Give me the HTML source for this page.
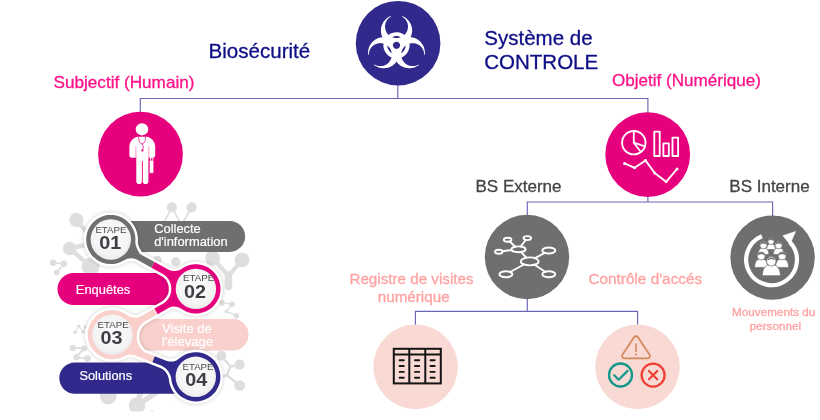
<!DOCTYPE html>
<html lang="fr">
<head>
<meta charset="utf-8">
<title>Biosécurité – Système de CONTROLE</title>
<style>
html,body{margin:0;padding:0;background:#fff;}
body{width:820px;height:420px;overflow:hidden;position:relative;font-family:"Liberation Sans",Arial,sans-serif;}
svg{position:absolute;left:0;top:0;display:block;will-change:transform;}
text{font-family:"Liberation Sans",Arial,sans-serif;}
.navy{fill:#0e0e86;stroke:#0e0e86;}
.mag{fill:#ff1088;stroke:#ff1088;}
.dk{fill:#454545;stroke:#454545;}
.sal{fill:#ffa2a2;stroke:#ffa2a2;}
.w{fill:#fff;}
</style>
</head>
<body>
<svg width="820" height="420" viewBox="0 0 820 420">
<defs>
  <radialGradient id="rg" cx="50%" cy="45%" r="55%">
    <stop offset="0" stop-color="#fafafa"/><stop offset="0.75" stop-color="#f5f5f5"/><stop offset="1" stop-color="#ebebeb"/>
  </radialGradient>
  <clipPath id="decoclip"><rect x="0" y="195" width="820" height="216.4"/></clipPath>
  <filter id="soft" x="-10%" y="-10%" width="120%" height="120%"><feGaussianBlur stdDeviation="1.6"/></filter>
</defs>

<!-- connector lines -->
<g id="lines" fill="none" stroke="#6a67b6" stroke-width="1.15">
  <path d="M397.8 84V98.5M140.3 113V98.5H647.9V113"/>
  <path d="M647.9 196V202M527.3 216V202H772.6V216"/>
  <path d="M527.3 298V311.4M415.4 325V311.4H637.6V325"/>
</g>

<!-- main circles -->
<circle cx="398.1" cy="43.2" r="42.3" fill="#312a8c"/>
<circle cx="140.5" cy="154.2" r="42.4" fill="#e6007e"/>
<circle cx="647.7" cy="154.6" r="42.4" fill="#e6007e"/>
<circle cx="527" cy="257" r="42.2" fill="#706f6f"/>
<circle cx="772.6" cy="257.6" r="42.2" fill="#706f6f"/>
<circle cx="415.6" cy="366.9" r="42.3" fill="#f9d9d4"/>
<circle cx="637.5" cy="366.9" r="42.3" fill="#f9d9d4"/>

<!-- labels -->
<g stroke-width="0.3">
<text x="208.6" y="57.9" font-size="20.55" class="navy">Biosécurité</text>
<text x="484.3" y="44.65" font-size="20.5" class="navy">Système de</text>
<text x="484.3" y="68.75" font-size="20.5" class="navy">CONTROLE</text>
<text x="53.5" y="88.1" font-size="17.15" class="mag">Subjectif (Humain)</text>
<text x="612" y="85.6" font-size="17.07" class="mag">Objetif (Numérique)</text>
<text x="475.5" y="192.3" font-size="17" class="dk">BS Externe</text>
<text x="729.3" y="192.3" font-size="17" class="dk">BS Interne</text>
<text x="411.5" y="283.5" font-size="15.2" class="sal" text-anchor="middle">Registre de visites</text>
<text x="413.7" y="301.6" font-size="15.2" class="sal" text-anchor="middle">numérique</text>
<text x="588.4" y="284.2" font-size="15.35" class="sal">Contrôle d'accés</text>
<text x="773.7" y="315.9" font-size="11.7" class="sal" text-anchor="middle">Mouvements du</text>
<text x="775.4" y="329.9" font-size="11.7" class="sal" text-anchor="middle">personnel</text>
</g>

<!--DECO-->
<g id="deco" fill="#dedede" stroke="#dedede" stroke-linecap="round" clip-path="url(#decoclip)">
  <!-- upper-left cluster -->
  <circle cx="76.4" cy="220" r="7.2" stroke="none"/>
  <circle cx="69.7" cy="248.5" r="6.8" stroke="none"/>
  <circle cx="90.6" cy="266.6" r="9" stroke="none"/>
  <path d="M76.4 220L88 234M69.7 248.5L90 244M69.7 248.5L90.6 266.6" stroke-width="4.4" fill="none"/>
  <circle cx="53" cy="262.8" r="3.2" stroke="none"/><circle cx="64" cy="263.7" r="3.2" stroke="none"/><circle cx="56.8" cy="272.3" r="2.9" stroke="none"/>
  <path d="M53 262.8L64 263.7L56.8 272.3" stroke-width="1.7" fill="none"/>
  <!-- above bar 1 -->
  <circle cx="171.9" cy="207.4" r="5.1" stroke="none"/><circle cx="191.6" cy="207.4" r="5.1" stroke="none"/>
  <path d="M163 224L171.9 207.4L181.5 225L191.6 207.4" stroke-width="1.8" fill="none"/>
  <!-- below bar 1 right -->
  <circle cx="212.6" cy="258" r="7.4" stroke="none"/><circle cx="242" cy="259.8" r="7.4" stroke="none"/>
  <circle cx="175.7" cy="261.7" r="4.6" stroke="none"/><circle cx="157.6" cy="259.8" r="4" stroke="none"/>
  <path d="M212.6 258L228.5 276L242 259.8" stroke-width="4.2" fill="none"/><path d="M228.5 275L228.5 286.5" stroke-width="7.4" fill="none"/>
  <!-- small chain right middle -->
  <circle cx="222.1" cy="302.9" r="2.8" stroke="none"/><circle cx="232.1" cy="304.3" r="2.8" stroke="none"/><circle cx="226.4" cy="311.4" r="2" stroke="none"/><circle cx="236.4" cy="315.7" r="2.8" stroke="none"/>
  <path d="M222.1 302.9L232.1 304.3L226.4 311.4L236.4 315.7" stroke-width="1.3" fill="none"/>
  <!-- lower right -->
  <circle cx="221.4" cy="355.7" r="4.9" stroke="none"/><circle cx="239.6" cy="364.6" r="5" stroke="none"/><circle cx="239.6" cy="385.5" r="5.3" stroke="none"/>
  <path d="M221.4 355.7L230.5 366.5L239.6 364.6M230.5 366.5L226.8 375L239.6 385.5M226.8 375L215 380" stroke-width="2.4" stroke-linejoin="round" fill="none"/>
  <!-- left of ring 03 -->
  <circle cx="75" cy="332.3" r="1.7" stroke="none"/><circle cx="78.9" cy="326.1" r="1.7" stroke="none"/><circle cx="82.9" cy="331.8" r="1.7" stroke="none"/><circle cx="85.7" cy="327" r="1.7" stroke="none"/>
  <path d="M75 332.3L78.9 326.1L82.9 331.8L85.7 327" stroke-width="1" fill="none"/>
  <circle cx="72.7" cy="347.9" r="3.1" stroke="none"/><circle cx="83.9" cy="348.4" r="3" stroke="none"/><circle cx="76.3" cy="357.3" r="3" stroke="none"/><circle cx="87.5" cy="358.6" r="3.3" stroke="none"/>
  <path d="M72.7 347.9L83.9 348.4L76.3 357.3L87.5 358.6" stroke-width="1.9" fill="none"/>
  <!-- below bar 4 -->
  <circle cx="108.3" cy="396" r="8.4" stroke="none"/><circle cx="137" cy="405.5" r="8.3" stroke="none"/>
  <path d="M137 405.5L157 392M137 403L141 392" stroke-width="5.2" fill="none"/>
  <circle cx="152" cy="411" r="0.6" fill="#666" stroke="none"/>
</g>

<!--/DECO-->
<!--STEPS-->
<g id="steps">
<path d="M118 221H229.7a15.45 15.45 0 0 1 0 30.9H118Z" fill="#706f6f"/>
<path d="M190 273H73.5a16 16 0 0 0 0 32H190Z" fill="#e6007e"/>
<path d="M120 319H232.8a15.75 15.75 0 0 1 0 31.5H120Z" fill="#f9d0cb"/>
<path d="M190 362.4H75a15.7 15.7 0 0 0 0 31.4H190Z" fill="#312a8c"/>
<path id="shadow" d="M127.5 221.5L125.7 219.9L123.9 218.7L122.3 217.8L120.1 216.7L118.0 216.0L115.7 215.4L113.9 215.1L111.5 214.9L109.3 214.9L107.5 215.1L105.1 215.6L103.0 216.2L100.8 217.0L99.1 217.9L97.1 219.1L95.3 220.4L93.9 221.6L92.3 223.3L90.9 225.1L89.9 226.6L88.7 228.7L87.8 230.7L87.2 232.5L86.7 234.8L86.3 237.2L86.2 239.4L86.3 241.2L86.5 243.6L87.0 245.8L87.7 248.0L88.4 249.7L89.6 251.9L91.2 254.4L92.9 256.4L94.7 258.1L97.0 259.9L99.3 261.2L101.5 262.3L104.3 263.2L106.7 263.8L109.3 264.1L111.7 264.1L114.1 263.9L116.5 263.4L118.6 262.8L120.8 262.0L126.1 259.2L127.4 258.7L129.3 258.4L131.2 258.2L133.6 258.5L135.4 259.0L137.2 259.8L162.9 274.0L164.7 275.2L166.4 276.7L167.9 278.4L169.1 280.2L170.2 282.7L170.9 284.8L171.2 287.0L171.3 289.6L171.1 291.8L170.6 294.1L169.6 296.6L168.1 299.0L166.3 301.1L164.2 302.9L162.8 303.8L141.6 316.0L139.9 316.8L138.6 317.3L136.8 317.7L134.9 317.8L133.0 317.6L131.3 317.2L128.9 316.2L124.7 313.5L121.8 312.0L120.1 311.4L118.0 310.8L114.6 310.2L112.4 310.1L110.6 310.2L108.4 310.4L106.6 310.8L104.5 311.4L102.8 312.0L100.8 312.9L99.2 313.9L97.4 315.1L95.6 316.7L94.3 318.0L92.7 319.8L91.5 321.6L90.6 323.2L89.5 325.4L88.8 327.5L88.2 329.8L87.9 331.6L87.7 334.0L87.7 336.2L88.0 338.6L88.4 340.4L89.0 342.7L89.8 344.7L91.0 347.1L92.4 349.1L94.3 351.4L96.1 353.2L98.1 354.8L100.6 356.3L103.0 357.5L105.3 358.3L107.6 358.8L110.6 359.2L113.0 359.3L115.6 359.1L118.0 358.6L120.3 358.0L122.5 357.1L125.5 355.6L127.3 355.0L129.8 354.6L132.3 354.7L134.1 355.0L135.3 355.5L161.7 365.8L164.0 367.2L165.8 368.5L167.4 370.2L168.7 372.0L169.8 373.9L170.6 376.0L171.2 378.1L171.5 380.9L172.1 383.3L172.8 385.5L173.8 387.8L175.3 390.4L176.8 392.5L178.9 394.7L180.9 396.4L183.6 398.1L186.5 399.6L189.5 400.6L192.7 401.2L195.9 401.4L199.1 401.2L202.3 400.5L205.8 399.3L208.2 398.0L210.9 396.2L213.3 394.1L215.3 391.9L217.0 389.2L218.2 386.9L219.4 383.9L220.1 380.9L220.4 377.7L220.3 375.1L219.9 371.9L219.1 369.0L217.9 366.0L216.6 363.7L214.8 361.1L212.7 358.9L210.7 357.2L208.7 355.9L206.6 354.7L204.4 353.7L202.1 353.0L199.7 352.5L197.3 352.2L194.9 352.2L192.5 352.4L190.1 352.9L188.0 353.5L185.8 354.3L184.1 355.2L182.2 356.3L177.9 359.5L176.3 360.4L175.0 360.9L173.2 361.4L171.2 361.6L169.3 361.5L166.9 360.9L144.8 352.3L143.3 351.5L142.6 350.4L141.0 348.7L139.6 346.9L138.5 345.0L137.9 343.4L137.2 341.3L136.9 339.2L136.8 337.0L137.0 334.2L137.2 332.6L137.6 331.0L138.2 329.4L138.9 327.9L139.8 326.5L140.8 325.1L141.9 323.9L143.1 322.8L145.4 321.2L167.7 308.4L170.0 307.3L171.8 306.8L173.7 306.6L175.6 306.7L177.5 307.0L180.0 308.0L184.2 310.5L187.1 311.9L188.9 312.5L191.0 313.0L194.4 313.5L196.6 313.5L198.4 313.4L200.6 313.1L202.3 312.6L204.4 312.0L206.1 311.3L208.1 310.3L209.7 309.3L211.4 308.0L212.8 306.8L214.4 305.1L215.8 303.3L216.8 301.8L218.0 299.7L218.9 297.7L219.5 295.9L220.0 293.6L220.4 291.4L220.5 289.6L220.4 287.2L220.2 285.0L219.8 283.2L219.2 280.9L218.4 278.9L217.2 276.5L215.8 274.5L213.9 272.2L212.2 270.5L210.2 268.9L208.1 267.5L205.4 266.2L203.1 265.4L200.6 264.8L197.4 264.3L194.4 264.3L191.8 264.6L188.9 265.3L186.4 266.2L183.7 267.5L180.3 269.7L178.4 270.4L176.7 270.8L175.4 271.0L173.6 271.0L172.3 270.9L169.9 270.2L168.2 269.5L141.3 254.8L139.9 253.7L139.2 253.1L138.9 251.9L137.3 249.3L136.2 246.6L135.6 244.5L135.4 242.9L135.4 238.6L135.1 235.6L134.5 233.0L133.5 230.0L132.4 227.8L130.9 225.3L129.2 223.2Z" fill="none" stroke="#000" stroke-opacity="0.1" stroke-width="8" stroke-linejoin="round" filter="url(#soft)"/>
<path d="M127.5 221.5L125.7 219.9L123.9 218.7L122.3 217.8L120.1 216.7L118.0 216.0L115.7 215.4L113.9 215.1L111.5 214.9L109.3 214.9L107.5 215.1L105.1 215.6L103.0 216.2L100.8 217.0L99.1 217.9L97.1 219.1L95.3 220.4L93.9 221.6L92.3 223.3L90.9 225.1L89.9 226.6L88.7 228.7L87.8 230.7L87.2 232.5L86.7 234.8L86.3 237.2L86.2 239.4L86.3 241.2L86.5 243.6L87.0 245.8L87.7 248.0L88.4 249.7L89.6 251.9L91.2 254.4L92.9 256.4L94.7 258.1L97.0 259.9L99.3 261.2L101.5 262.3L104.3 263.2L106.7 263.8L109.3 264.1L111.7 264.1L114.1 263.9L116.5 263.4L118.6 262.8L120.8 262.0L126.1 259.2L127.4 258.7L129.3 258.4L131.2 258.2L133.6 258.5L135.4 259.0L137.2 259.8L162.9 274.0L164.7 275.2L166.4 276.7L167.9 278.4L169.1 280.2L170.2 282.7L170.9 284.8L171.2 287.0L171.3 289.6L171.1 291.8L170.6 294.1L169.6 296.6L168.1 299.0L166.3 301.1L164.2 302.9L162.8 303.8L141.6 316.0L139.9 316.8L138.6 317.3L136.8 317.7L134.9 317.8L133.0 317.6L131.3 317.2L128.9 316.2L124.7 313.5L121.8 312.0L120.1 311.4L118.0 310.8L114.6 310.2L112.4 310.1L110.6 310.2L108.4 310.4L106.6 310.8L104.5 311.4L102.8 312.0L100.8 312.9L99.2 313.9L97.4 315.1L95.6 316.7L94.3 318.0L92.7 319.8L91.5 321.6L90.6 323.2L89.5 325.4L88.8 327.5L88.2 329.8L87.9 331.6L87.7 334.0L87.7 336.2L88.0 338.6L88.4 340.4L89.0 342.7L89.8 344.7L91.0 347.1L92.4 349.1L94.3 351.4L96.1 353.2L98.1 354.8L100.6 356.3L103.0 357.5L105.3 358.3L107.6 358.8L110.6 359.2L113.0 359.3L115.6 359.1L118.0 358.6L120.3 358.0L122.5 357.1L125.5 355.6L127.3 355.0L129.8 354.6L132.3 354.7L134.1 355.0L135.3 355.5L161.7 365.8L164.0 367.2L165.8 368.5L167.4 370.2L168.7 372.0L169.8 373.9L170.6 376.0L171.2 378.1L171.5 380.9L172.1 383.3L172.8 385.5L173.8 387.8L175.3 390.4L176.8 392.5L178.9 394.7L180.9 396.4L183.6 398.1L186.5 399.6L189.5 400.6L192.7 401.2L195.9 401.4L199.1 401.2L202.3 400.5L205.8 399.3L208.2 398.0L210.9 396.2L213.3 394.1L215.3 391.9L217.0 389.2L218.2 386.9L219.4 383.9L220.1 380.9L220.4 377.7L220.3 375.1L219.9 371.9L219.1 369.0L217.9 366.0L216.6 363.7L214.8 361.1L212.7 358.9L210.7 357.2L208.7 355.9L206.6 354.7L204.4 353.7L202.1 353.0L199.7 352.5L197.3 352.2L194.9 352.2L192.5 352.4L190.1 352.9L188.0 353.5L185.8 354.3L184.1 355.2L182.2 356.3L177.9 359.5L176.3 360.4L175.0 360.9L173.2 361.4L171.2 361.6L169.3 361.5L166.9 360.9L144.8 352.3L143.3 351.5L142.6 350.4L141.0 348.7L139.6 346.9L138.5 345.0L137.9 343.4L137.2 341.3L136.9 339.2L136.8 337.0L137.0 334.2L137.2 332.6L137.6 331.0L138.2 329.4L138.9 327.9L139.8 326.5L140.8 325.1L141.9 323.9L143.1 322.8L145.4 321.2L167.7 308.4L170.0 307.3L171.8 306.8L173.7 306.6L175.6 306.7L177.5 307.0L180.0 308.0L184.2 310.5L187.1 311.9L188.9 312.5L191.0 313.0L194.4 313.5L196.6 313.5L198.4 313.4L200.6 313.1L202.3 312.6L204.4 312.0L206.1 311.3L208.1 310.3L209.7 309.3L211.4 308.0L212.8 306.8L214.4 305.1L215.8 303.3L216.8 301.8L218.0 299.7L218.9 297.7L219.5 295.9L220.0 293.6L220.4 291.4L220.5 289.6L220.4 287.2L220.2 285.0L219.8 283.2L219.2 280.9L218.4 278.9L217.2 276.5L215.8 274.5L213.9 272.2L212.2 270.5L210.2 268.9L208.1 267.5L205.4 266.2L203.1 265.4L200.6 264.8L197.4 264.3L194.4 264.3L191.8 264.6L188.9 265.3L186.4 266.2L183.7 267.5L180.3 269.7L178.4 270.4L176.7 270.8L175.4 271.0L173.6 271.0L172.3 270.9L169.9 270.2L168.2 269.5L141.3 254.8L139.9 253.7L139.2 253.1L138.9 251.9L137.3 249.3L136.2 246.6L135.6 244.5L135.4 242.9L135.4 238.6L135.1 235.6L134.5 233.0L133.5 230.0L132.4 227.8L130.9 225.3L129.2 223.2Z" fill="#fff" stroke="#fff" stroke-width="5" stroke-linejoin="round"/>
<path d="M125.7 219.9L123.9 218.7L122.3 217.8L120.1 216.7L118.0 216.0L115.7 215.4L113.9 215.1L111.5 214.9L109.3 214.9L107.5 215.1L105.1 215.6L103.0 216.2L100.8 217.0L99.1 217.9L97.1 219.1L95.3 220.4L93.9 221.6L92.3 223.3L90.9 225.1L89.9 226.6L88.7 228.7L87.8 230.7L87.2 232.5L86.7 234.8L86.3 237.2L86.2 239.4L86.3 241.2L86.5 243.6L87.0 245.8L87.7 248.0L88.4 249.7L89.6 251.9L91.2 254.4L92.9 256.4L94.7 258.1L97.0 259.9L99.3 261.2L101.5 262.3L104.3 263.2L106.7 263.8L109.3 264.1L111.7 264.1L114.1 263.9L116.5 263.4L118.6 262.8L120.8 262.0L126.1 259.2L127.4 258.7L129.3 258.4L131.2 258.2L133.6 258.5L135.4 259.0L137.2 259.8L151.5 267.7L154.6 262.0L141.3 254.8L139.9 253.7L139.2 253.1L138.9 251.9L137.3 249.3L136.2 246.6L135.6 244.5L135.4 242.9L135.4 238.6L135.1 235.6L134.5 233.0L133.5 230.0L132.4 227.8L130.9 225.3L129.2 223.2L127.5 221.5Z" fill="#706f6f"/>
<path d="M162.9 274.0L164.7 275.2L166.4 276.7L167.9 278.4L169.1 280.2L170.2 282.7L170.9 284.8L171.2 287.0L171.3 289.6L171.1 291.8L170.6 294.1L169.6 296.6L168.1 299.0L166.3 301.1L164.2 302.9L162.8 303.8L154.4 308.6L157.6 314.2L167.7 308.4L170.0 307.3L171.8 306.8L173.7 306.6L175.6 306.7L177.5 307.0L180.0 308.0L184.2 310.5L187.1 311.9L188.9 312.5L191.0 313.0L194.4 313.5L196.6 313.5L198.4 313.4L200.6 313.1L202.3 312.6L204.4 312.0L206.1 311.3L208.1 310.3L209.7 309.3L211.4 308.0L212.8 306.8L214.4 305.1L215.8 303.3L216.8 301.8L218.0 299.7L218.9 297.7L219.5 295.9L220.0 293.6L220.4 291.4L220.5 289.6L220.4 287.2L220.2 285.0L219.8 283.2L219.2 280.9L218.4 278.9L217.2 276.5L215.8 274.5L213.9 272.2L212.2 270.5L210.2 268.9L208.1 267.5L205.4 266.2L203.1 265.4L200.6 264.8L197.4 264.3L194.4 264.3L191.8 264.6L188.9 265.3L186.4 266.2L183.7 267.5L180.3 269.7L178.4 270.4L176.7 270.8L175.4 271.0L173.6 271.0L172.3 270.9L169.9 270.2L168.2 269.5L154.6 262.0L151.5 267.7Z" fill="#e6007e"/>
<path d="M141.6 316.0L139.9 316.8L138.6 317.3L136.8 317.7L134.9 317.8L133.0 317.6L131.3 317.2L128.9 316.2L124.7 313.5L121.8 312.0L120.1 311.4L118.0 310.8L114.6 310.2L112.4 310.1L110.6 310.2L108.4 310.4L106.6 310.8L104.5 311.4L102.8 312.0L100.8 312.9L99.2 313.9L97.4 315.1L95.6 316.7L94.3 318.0L92.7 319.8L91.5 321.6L90.6 323.2L89.5 325.4L88.8 327.5L88.2 329.8L87.9 331.6L87.7 334.0L87.7 336.2L88.0 338.6L88.4 340.4L89.0 342.7L89.8 344.7L91.0 347.1L92.4 349.1L94.3 351.4L96.1 353.2L98.1 354.8L100.6 356.3L103.0 357.5L105.3 358.3L107.6 358.8L110.6 359.2L113.0 359.3L115.6 359.1L118.0 358.6L120.3 358.0L122.5 357.1L125.5 355.6L127.3 355.0L129.8 354.6L132.3 354.7L134.1 355.0L135.3 355.5L152.4 362.2L154.8 356.2L144.8 352.3L143.3 351.5L142.6 350.4L141.0 348.7L139.6 346.9L138.5 345.0L137.9 343.4L137.2 341.3L136.9 339.2L136.8 337.0L137.0 334.2L137.2 332.6L137.6 331.0L138.2 329.4L138.9 327.9L139.8 326.5L140.8 325.1L141.9 323.9L143.1 322.8L145.4 321.2L157.6 314.2L154.4 308.6Z" fill="#f9d0cb"/>
<path d="M161.7 365.8L164.0 367.2L165.8 368.5L167.4 370.2L168.7 372.0L169.8 373.9L170.6 376.0L171.2 378.1L171.5 380.9L172.1 383.3L172.8 385.5L173.8 387.8L175.3 390.4L176.8 392.5L178.9 394.7L180.9 396.4L183.6 398.1L186.5 399.6L189.5 400.6L192.7 401.2L195.9 401.4L199.1 401.2L202.3 400.5L205.8 399.3L208.2 398.0L210.9 396.2L213.3 394.1L215.3 391.9L217.0 389.2L218.2 386.9L219.4 383.9L220.1 380.9L220.4 377.7L220.3 375.1L219.9 371.9L219.1 369.0L217.9 366.0L216.6 363.7L214.8 361.1L212.7 358.9L210.7 357.2L208.7 355.9L206.6 354.7L204.4 353.7L202.1 353.0L199.7 352.5L197.3 352.2L194.9 352.2L192.5 352.4L190.1 352.9L188.0 353.5L185.8 354.3L184.1 355.2L182.2 356.3L177.9 359.5L176.3 360.4L175.0 360.9L173.2 361.4L171.2 361.6L169.3 361.5L166.9 360.9L154.8 356.2L152.4 362.2Z" fill="#312a8c"/>
<circle cx="110.8" cy="239.5" r="20.2" fill="url(#rg)"/>
<circle cx="195.9" cy="288.9" r="20.2" fill="url(#rg)"/>
<circle cx="112.3" cy="334.7" r="20.2" fill="url(#rg)"/>
<circle cx="195.8" cy="376.8" r="20.2" fill="url(#rg)"/>
</g>
<!--/STEPS-->
<!--STEPTXT-->
<g id="steptxt" fill="#fff" stroke="#fff" stroke-width="0.2">
<text x="154.2" y="232.9" font-size="12.9">Collecte</text>
<text x="154.2" y="246" font-size="12.9">d'information</text>
<text x="75.8" y="294.2" font-size="12.9">Enquêtes</text>
<text x="161.9" y="333.4" font-size="13.1">Visite de</text>
<text x="161.9" y="346.3" font-size="13.1">l'élevage</text>
<text x="79.4" y="380" font-size="12.8">Solutions</text>
</g>
<g id="etape" fill="#4a4a4a" font-size="9.8" text-anchor="middle">
<text x="110.9" y="232.7" textLength="31" lengthAdjust="spacingAndGlyphs">ETAPE</text>
<text x="198.6" y="281" textLength="31" lengthAdjust="spacingAndGlyphs">ETAPE</text>
<text x="113.1" y="328" textLength="31" lengthAdjust="spacingAndGlyphs">ETAPE</text>
<text x="198" y="370" textLength="31" lengthAdjust="spacingAndGlyphs">ETAPE</text>
</g>
<g id="nums" fill="#3e3e46" font-size="18.6" font-weight="bold" text-anchor="middle">
<text x="110.2" y="248.6" textLength="22" lengthAdjust="spacingAndGlyphs">01</text>
<text x="195.1" y="297.9" textLength="22" lengthAdjust="spacingAndGlyphs">02</text>
<text x="111.6" y="343.9" textLength="22" lengthAdjust="spacingAndGlyphs">03</text>
<text x="196.2" y="385.8" textLength="22" lengthAdjust="spacingAndGlyphs">04</text>
</g>

<!--/STEPTXT-->
<!--ICONS-->
<path id="bio" fill="#fff" fill-rule="evenodd" d="M403.8 34.4L402.1 33.5L400.0 32.7L398.1 32.3L396.2 32.2L394.3 32.4L392.1 33.0L390.3 33.7L388.5 34.9L387.6 33.9L386.8 32.8L386.1 31.5L385.7 30.5L385.3 29.1L385.1 27.7L385.0 26.3L385.1 25.2L385.3 24.1L385.7 22.7L386.1 21.7L386.6 20.7L387.6 19.3L388.6 18.3L389.6 17.4L390.9 16.6L390.7 16.0L389.1 16.7L387.8 17.5L386.6 18.4L385.2 19.7L383.7 21.5L382.6 23.5L381.7 25.6L381.1 27.8L380.9 30.1L381.0 32.4L381.5 34.7L381.8 35.8L382.4 37.2L380.6 37.4L379.2 37.8L377.7 38.3L376.3 38.9L375.0 39.7L373.5 40.9L372.4 41.9L371.4 43.1L370.5 44.4L369.7 45.7L369.1 47.1L368.6 48.5L368.3 50.0L368.1 51.6L368.1 53.1L368.2 54.9L368.8 54.8L368.9 53.5L369.1 52.1L369.5 50.8L370.0 49.5L371.1 47.8L371.8 46.9L372.6 46.1L373.5 45.4L374.4 44.8L375.4 44.3L376.7 43.7L377.8 43.4L378.9 43.2L380.3 43.1L381.4 43.2L383.5 43.6L383.4 44.7L383.4 45.9L383.5 47.2L383.8 48.5L384.5 50.6L385.1 51.8L385.8 52.8L387.0 54.3L388.2 55.4L389.2 56.2L390.3 56.9L390.9 57.1L391.2 57.3L391.5 57.4L391.5 57.2L391.5 57.4L391.1 58.5L390.6 59.8L389.9 61.0L389.2 61.9L388.2 63.0L387.2 63.9L386.2 64.5L385.0 65.2L383.6 65.7L382.5 65.9L381.4 66.1L380.0 66.1L378.6 66.0L377.2 65.7L375.9 65.3L374.4 64.5L374.1 65.0L375.3 65.9L376.7 66.6L378.1 67.3L379.5 67.7L381.4 68.1L382.9 68.3L384.4 68.3L386.0 68.1L387.5 67.8L388.9 67.4L390.4 66.8L392.0 65.9L393.3 65.0L394.4 64.0L395.5 62.9L396.5 61.6L397.5 62.9L398.6 64.0L399.7 65.0L401.0 65.9L402.3 66.6L403.7 67.3L405.5 67.8L407.0 68.1L408.6 68.3L410.1 68.3L411.6 68.1L413.5 67.7L414.9 67.3L416.3 66.6L417.7 65.9L418.9 65.0L418.6 64.5L417.4 65.2L416.0 65.7L414.7 66.0L413.3 66.1L412.1 66.1L410.7 66.0L409.6 65.7L408.6 65.4L407.3 64.8L406.3 64.2L405.2 63.4L404.4 62.6L403.5 61.5L402.8 60.6L402.2 59.3L401.8 58.3L401.5 57.4L403.5 56.4L405.3 55.0L406.8 53.4L407.9 51.8L408.7 50.0L409.3 47.9L409.6 45.6L409.5 43.6L410.2 43.4L411.3 43.2L412.4 43.2L413.5 43.2L414.7 43.3L415.8 43.6L416.8 43.9L417.9 44.4L419.1 45.1L420.2 45.9L421.2 46.9L422.1 48.0L422.8 49.2L423.4 50.5L423.9 51.9L424.1 53.2L424.2 54.8L424.8 54.9L424.9 53.1L424.9 51.6L424.7 50.4L424.4 48.9L424.0 47.4L423.4 46.0L422.7 44.7L421.8 43.4L420.9 42.2L420.1 41.4L418.9 40.4L417.7 39.5L416.3 38.8L414.9 38.1L413.5 37.7L412.0 37.3L410.6 37.2L411.3 35.4L411.7 33.9L412.0 32.4L412.1 30.9L412.1 29.4L411.9 27.8L411.5 26.3L411.1 24.9L410.4 23.5L409.7 22.2L408.8 20.9L407.5 19.5L406.4 18.4L405.2 17.5L403.9 16.7L402.3 16.0L402.1 16.6L403.4 17.4L404.6 18.5L405.7 19.7L406.5 20.9L407.0 21.9L407.5 23.3L407.8 24.4L408.0 25.8L408.0 27.2L407.8 28.8L407.4 30.2L406.9 31.5L405.9 33.2L405.2 34.1L404.5 34.9ZM387.4 45.6L388.2 46.3L389.0 47.1L389.7 48.0L390.3 48.9L393.4 47.1L393.1 46.3L392.9 45.7L392.9 44.8L393.1 44.1L393.6 43.2L394.4 42.4L395.3 41.9L395.8 41.8L396.5 41.7L396.5 38.1L395.1 38.0L394.0 37.8L392.9 37.5L392.4 37.3L392.1 37.2L391.8 37.1L392.1 37.2L393.2 36.7L394.5 36.3L395.6 36.1L396.5 36.1L397.4 36.1L398.5 36.3L399.8 36.7L400.9 37.2L401.2 37.1L400.9 37.2L400.6 37.3L400.1 37.5L399.0 37.8L397.9 38.0L396.5 38.1L396.5 41.7L397.2 41.8L397.7 41.9L398.6 42.4L399.4 43.2L399.9 44.1L400.1 44.8L400.1 45.7L399.9 46.3L399.6 47.1L402.7 48.9L403.5 47.8L404.2 46.9L405.0 46.1L405.4 45.8L405.6 45.6L405.8 45.4L405.7 45.5L405.6 46.6L405.3 48.0L404.9 49.0L404.4 50.0L403.9 50.8L403.2 51.6L402.3 52.4L401.3 53.2L401.3 53.2L401.3 53.0L401.4 52.7L401.5 52.1L401.8 51.0L402.2 50.0L402.7 48.9L399.6 47.1L399.2 47.7L398.6 48.2L397.9 48.6L397.2 48.8L396.1 48.9L395.5 48.7L395.0 48.6L394.1 48.0L393.4 47.1L390.3 48.9L390.8 50.0L391.2 51.0L391.5 52.1L391.6 52.7L391.7 53.0L391.7 53.2L391.7 53.2L390.7 52.4L389.8 51.6L389.1 50.8L388.5 49.8L388.0 48.8L387.6 47.5L387.4 46.4L387.3 46.0L387.3 45.8L387.3 45.5L387.3 45.5L387.2 45.4Z"/>
<g id="doctor" fill="#fff">
  <ellipse cx="142" cy="129.3" rx="6.3" ry="6.1"/>
  <path d="M138 136.7C133.5 137.3 129.6 141 129.4 146.6V155.3a2.5 2.5 0 0 0 2.5 2.5H136.3V181.3a2.8 2.8 0 0 0 5.6 0V161h0.9V181.3a2.8 2.8 0 0 0 5.6 0V157.8H152.7a2.5 2.5 0 0 0 2.5-2.5V146.6C155 141 151 137.3 146.6 136.7Z"/>
  <path d="M135.9 146.5V158M148.8 146.5V158" fill="none" stroke="#e6007e" stroke-width="0.55" stroke-opacity="0.75"/>
  <rect x="149.4" y="160.2" width="4.3" height="13" rx="0.8" stroke="#e6007e" stroke-width="0.5"/>
  <path d="M150.4 160.4v-2.4h2.4v2.4" fill="none" stroke="#fff" stroke-width="0.9"/>
  <path d="M138.8 137C138.6 141 139.8 143.6 142 143.8C144.4 143.6 145.8 140.6 145.4 137M142 143.8C143.6 145.4 143.6 148 142.6 149.6" fill="none" stroke="#e6007e" stroke-width="0.75"/>
  <circle cx="142.4" cy="150.4" r="1.15" fill="#e6007e"/>
</g>
<g id="chart" fill="none" stroke="#fff" stroke-width="1.85" stroke-linejoin="round" stroke-linecap="round">
  <circle cx="633.8" cy="142.7" r="11.7"/>
  <path d="M633.8 131V142.7L640.9 152M633.8 142.7L645 146.4"/>
  <rect x="654.3" y="131.6" width="5.4" height="24.4"/>
  <rect x="663.4" y="143.4" width="5.4" height="12.6"/>
  <rect x="672.5" y="137.6" width="5.6" height="18.4"/>
  <path d="M624.6 163.4L634.6 167.8L645.5 160.4L654.7 173L666.1 181.8L677 169"/>
  <g fill="#fff" stroke="none"><circle cx="624.6" cy="163.4" r="1.5"/><circle cx="634.6" cy="167.8" r="1.5"/><circle cx="645.5" cy="160.4" r="1.4"/><circle cx="654.7" cy="173" r="1.5"/><circle cx="666.1" cy="181.8" r="1.4"/><circle cx="677" cy="169" r="1.5"/></g>
</g>
<g id="net" transform="translate(0.2,0)" fill="none" stroke="#fff" stroke-width="1.9" stroke-linecap="round">
<ellipse cx="529.5" cy="261.4" rx="9.0" ry="4.0"/>
<ellipse cx="518.3" cy="249.3" rx="7.1" ry="2.9"/>
<ellipse cx="507.4" cy="239.8" rx="3.8" ry="2.0"/>
<ellipse cx="527.1" cy="238.1" rx="3.8" ry="2.0"/>
<ellipse cx="498.6" cy="251.7" rx="3.8" ry="2.0"/>
<ellipse cx="548.6" cy="250.5" rx="6.5" ry="3.0"/>
<ellipse cx="505.7" cy="274.3" rx="6.5" ry="3.0"/>
<ellipse cx="548.6" cy="274.3" rx="6.5" ry="3.0"/>
<path d="M515.3 246.7L509.4 241.5M520.5 246.5L525.6 239.9M511.5 250.1L502.3 251.2M520.8 252.0L526.1 257.7M535.0 258.2L544.5 252.8M523.8 264.5L509.9 272.0M534.4 264.7L544.9 271.8"/>
</g>
<g id="people">
<path d="M761.9 236.3A25.4 25.4 0 1 0 789.9 242.2" fill="none" stroke="#fff" stroke-width="4.2"/>
<path d="M782.9 235.7L795.6 231.5L789.9 244.3Z" fill="#fff" stroke="#fff" stroke-width="0.6" stroke-linejoin="round"/>
<path d="M766.5 249.5q0.3 -4.5 2.7 -5.6h3.6q2.4 1.1 2.7 5.6z" fill="#fff" stroke="#706f6f" stroke-width="0.7"/>
<circle cx="771.0" cy="241.4" r="3.1" fill="#fff" stroke="#706f6f" stroke-width="0.7"/>
<path d="M768.5 241.1a2.5 2.6 0 0 1 5.0 0q-2.5 -2.3 -5.0 0z" fill="#706f6f"/>
<path d="M758.0 254.5q0.3 -5.1 3.3 -6.4h4.4q3.0 1.3 3.3 6.4z" fill="#fff" stroke="#706f6f" stroke-width="0.7"/>
<circle cx="763.5" cy="245.2" r="3.6" fill="#fff" stroke="#706f6f" stroke-width="0.7"/>
<path d="M760.6 244.8a2.9 3.1 0 0 1 5.8 0q-2.9 -2.7 -5.8 0z" fill="#706f6f"/>
<path d="M773.1 254.5q0.3 -5.1 3.3 -6.4h4.4q3.0 1.3 3.3 6.4z" fill="#fff" stroke="#706f6f" stroke-width="0.7"/>
<circle cx="778.6" cy="245.2" r="3.6" fill="#fff" stroke="#706f6f" stroke-width="0.7"/>
<path d="M775.7 244.8a2.9 3.1 0 0 1 5.8 0q-2.9 -2.7 -5.8 0z" fill="#706f6f"/>
<path d="M754.5 267.4q0.3 -6.6 4.0 -8.2h5.4q3.6 1.6 4.0 8.2z" fill="#fff" stroke="#706f6f" stroke-width="0.7"/>
<circle cx="761.2" cy="256.0" r="4.0" fill="#fff" stroke="#706f6f" stroke-width="0.7"/>
<path d="M758.0 255.6a3.2 3.4 0 0 1 6.4 0q-3.2 -3.0 -6.4 0z" fill="#706f6f"/>
<path d="M775.4 267.4q0.3 -6.6 4.0 -8.2h5.4q3.6 1.6 4.0 8.2z" fill="#fff" stroke="#706f6f" stroke-width="0.7"/>
<circle cx="782.1" cy="256.0" r="4.0" fill="#fff" stroke="#706f6f" stroke-width="0.7"/>
<path d="M778.9 255.6a3.2 3.4 0 0 1 6.4 0q-3.2 -3.0 -6.4 0z" fill="#706f6f"/>
<path d="M762.2 275.7q0.3 -8.5 5.5 -10.6h7.3q4.9 2.1 5.5 10.6z" fill="#fff" stroke="#706f6f" stroke-width="0.7"/>
<circle cx="771.3" cy="261.3" r="4.7" fill="#fff" stroke="#706f6f" stroke-width="0.7"/>
<path d="M767.5 260.8a3.8 4.0 0 0 1 7.5 0q-3.8 -3.5 -7.5 0z" fill="#706f6f"/>
</g>
<g id="table" fill="none" stroke="#151515" stroke-width="2">
<rect x="393.8" y="348.8" width="47" height="34.6"/>
<path d="M393.8 354.4H440.8M409.3 348.8V383.4M425.3 348.8V383.4"/>
<path d="M399.6 360.2h4.2M415.0 360.2h4.2M430.5 360.2h4.2M399.6 366.0h4.2M415.0 366.0h4.2M430.5 366.0h4.2M399.6 371.9h4.2M415.0 371.9h4.2M430.5 371.9h4.2M399.6 377.7h4.2M415.0 377.7h4.2M430.5 377.7h4.2" stroke-width="1.9" stroke-linecap="round"/>
</g>
<g id="access" fill="none" stroke-linecap="round" stroke-linejoin="round">
  <path d="M634 337.3a2.4 2.4 0 0 1 4 0l11.6 17.4a2.4 2.4 0 0 1-2 3.7h-23.2a2.4 2.4 0 0 1-2-3.7z" stroke="#d58a5c" stroke-width="1.8"/>
  <path d="M636 344v7.4" stroke="#d58a5c" stroke-width="1.6"/>
  <circle cx="636" cy="354.4" r="1" fill="#d58a5c" stroke="none"/>
  <circle cx="620.5" cy="375" r="11.5" stroke="#12998a" stroke-width="2.3"/>
  <path d="M614.3 375.3L618.6 379.7L627.6 370.9" stroke="#12998a" stroke-width="2.2"/>
  <circle cx="653.1" cy="375.1" r="11.5" stroke="#ee4033" stroke-width="2.3"/>
  <path d="M649 371l8.2 8.2M657.2 371l-8.2 8.2" stroke="#ee4033" stroke-width="2.2"/>
</g>

<!--/ICONS-->
</svg>
</body>
</html>
